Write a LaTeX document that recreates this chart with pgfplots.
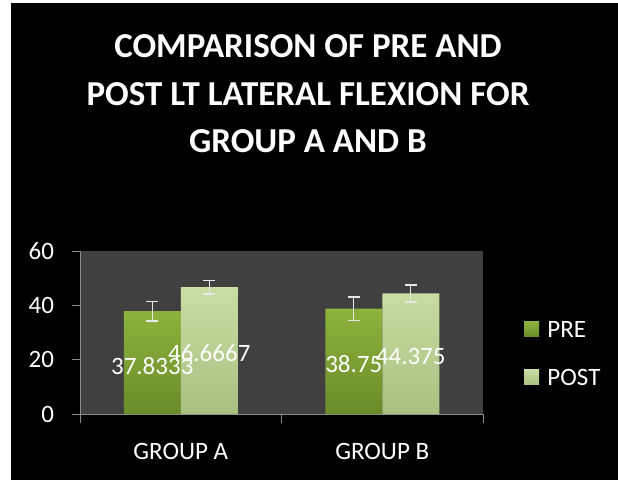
\documentclass[border=0pt]{standalone}
\usepackage{pgfplots}
\pgfplotsset{compat=1.18}
\usepackage{pgfplotstable}
\usepackage{fontspec}
\setmainfont{Carlito}
\definecolor{preTop}{HTML}{8DB33D}
\definecolor{preBot}{HTML}{6A8C2A}
\definecolor{postTop}{HTML}{CADDA3}
\definecolor{postBot}{HTML}{A9C080}
\definecolor{bggray}{HTML}{404040}
\definecolor{axgray}{HTML}{8C8C8C}
\definecolor{errc}{HTML}{E8E8E8}
\pgfplotstableread{
x pre preerr prelab post posterr postlab
0 37.8333 3.6 37.8333 46.6667 2.5 46.6667
1 38.75 4.3 38.75 44.375 3.1 44.375
}\data
\begin{document}
\begin{tikzpicture}[x=1pt,y=1pt]
\path[use as bounding box] (0,0) rectangle (618,480);
\fill[white] (0,0) rectangle (618,480);
\fill[black] (11,0) rectangle (618,477);
\begin{scope}[font=\fontsize{35}{40}\selectfont\bfseries, text=white]
\node[anchor=base] at (308,422) {COMPARISON OF PRE AND};
\node[anchor=base] at (308,374) {POST LT LATERAL FLEXION FOR};
\node[anchor=base] at (308,327) {GROUP A AND B};
\end{scope}
\begin{axis}[
  at={(80pt,66pt)}, anchor=south west,
  width=403pt, height=163pt, scale only axis,
  xmin=-0.5, xmax=1.5, ymin=0, ymax=60,
  ytick={0,20,40,60},
  xtick={-0.5,0.5,1.5}, xticklabels={},
  extra x ticks={0,1}, extra x tick labels={GROUP A,GROUP B},
  extra x tick style={major tick length=0pt},
  axis x line*=bottom, axis y line*=left,
  axis line style={axgray, line width=1pt},
  tick style={axgray, line width=1pt},
  tick align=outside, major tick length=8.5pt,
  axis background/.style={fill=bggray},
  ticklabel style={font=\fontsize{25}{30}\selectfont, text=white},
  /pgf/number format/assume math mode=true,
  xticklabel style={anchor=base, yshift=-45pt},
  yticklabel style={anchor=east, xshift=-14pt},
  ybar=0pt, bar width=57pt,
  legend style={at={(1.1017,0.369)}, anchor=west, draw=none, fill=none,
    inner sep=0pt, row sep=32pt, text=white,
    font=\fontsize{25}{30}\selectfont,
    nodes={inner xsep=8.3pt, inner ysep=0pt, text height=16pt, text depth=0pt}},
  legend cell align=left,
  nodes near coords,
  point meta=explicit symbolic,
  visualization depends on={rawy \as \rawy},
  every node near coord/.append style={anchor=center, text=white,
    font=\fontsize{25}{30}\selectfont, yshift=-3pt,
    shift={(axis direction cs:0,-\rawy/2)}},
]
\addplot[draw=none, top color=preTop, bottom color=preBot,
  legend image code/.code={\fill[top color=preTop, bottom color=preBot] (0pt,-7pt) rectangle (15pt,8pt);},
  error bars/.cd, y dir=both, y explicit,
  error bar style={errc, line width=1.3pt},
  error mark options={errc, rotate=90, mark size=6pt, line width=1.3pt}]
  table[x=x, y=pre, y error=preerr, meta=prelab] {\data};
\addplot[draw=none, top color=postTop, bottom color=postBot,
  legend image code/.code={\fill[top color=postTop, bottom color=postBot] (0pt,-7pt) rectangle (15pt,8pt);},
  error bars/.cd, y dir=both, y explicit,
  error bar style={errc, line width=1.3pt},
  error mark options={errc, rotate=90, mark size=6pt, line width=1.3pt}]
  table[x=x, y=post, y error=posterr, meta=postlab] {\data};
\legend{PRE,POST}
\end{axis}
\end{tikzpicture}
\end{document}
